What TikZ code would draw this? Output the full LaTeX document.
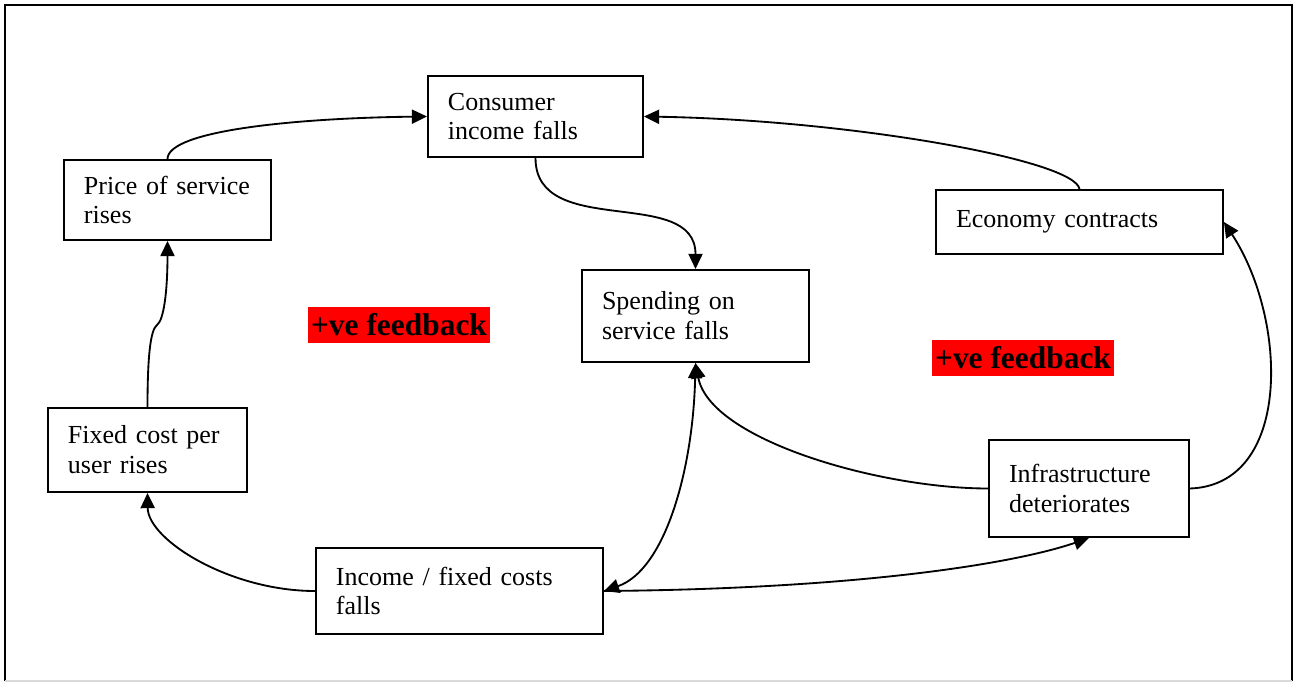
\documentclass[tikz,border=0pt]{standalone}
\usepackage{fontspec}
\setmainfont{Liberation Serif}
\usetikzlibrary{arrows.meta}
\usetikzlibrary{calc}

\begin{document}
\begin{tikzpicture}[x=0.4615pt, y=-0.4615pt]
        \tikzstyle{box} = [draw, line width=0.9pt, inner xsep=9.2pt, inner ysep=0pt, align=left, font=\fontsize{12}{13.8}\selectfont]
        \tikzstyle{link} = [line width=0.85pt, -{Triangle[length=7pt, width=6.5pt]}]
        \tikzstyle{twoway} = [line width=0.85pt, {Triangle[length=7pt, width=6.5pt]}-{Triangle[length=7pt, width=6.5pt]}]
        \tikzstyle{feedback} = [fill=red, inner xsep=1.5pt, inner ysep=0pt, minimum height=17pt, font=\fontsize{14.5}{16}\selectfont\bfseries]
        \useasboundingbox (0,0) rectangle (1295,682);

        % frame
        \draw [line width=0.9pt] (5,681) -- (5,5) -- (1292,5) -- (1292,681);
        \draw [gray!30, line width=0.9pt] (5,681) -- (1292,681);

        % boxes
        \node[box, text width=80.8pt, minimum height=37.4pt] (consumer) at (535.5,116.5) {Consumer\\income falls};
        \node[box, text width=77.1pt, minimum height=36.9pt] (price) at (167.5,200) {Price of service\\rises};
        \node[box, text width=114pt, minimum height=29.5pt] (economy) at (1079.5,222) {Economy contracts};
        \node[box, text width=86.3pt, minimum height=42.5pt] (spending) at (695.5,316) {Spending on\\service falls};
        \node[box, text width=73.4pt, minimum height=38.8pt] (fixed) at (147.5,450) {Fixed cost per\\user rises};
        \node[box, text width=73.8pt, minimum height=44.8pt] (infra) at (1089,488.5) {Infrastructure\\deteriorates};
        \node[box, text width=114pt, minimum height=39.7pt] (income) at (459.5,591) {Income / fixed costs\\falls};

        \node[feedback] (fb1) at (399,325) {+ve feedback};
        \node[feedback] (fb2) at (1023,358) {+ve feedback};

        % links
        \draw [link] (price.north) .. controls (167.5,130) and (300,118) .. (consumer.west);
        \draw [link] (economy.north) .. controls (1075,160) and (850,120) .. (consumer.east);
        \draw [link] (consumer.south) .. controls (535.5,240) and (695.5,185) .. (spending.north);
        \draw [link] (fixed.north) .. controls (147.5,360) and (150,330) .. (157,325)
                .. controls (164,320) and (167.5,290) .. (price.south);
        \draw [link] (income.west) .. controls (230,591) and (148,540) .. (fixed.south);
        \draw [twoway] (spending.south) .. controls (693,470) and (665,570) .. (income.east);
        \draw [link] (income.east) .. controls (850,589) and (1010,565) .. (infra.south);
        \draw [link] (infra.west) .. controls (880,488.5) and (710,440) .. (spending.south);
        \draw [link] (infra.east) .. controls (1292,485) and (1288,320) .. (economy.east);
\end{tikzpicture}
\end{document}
